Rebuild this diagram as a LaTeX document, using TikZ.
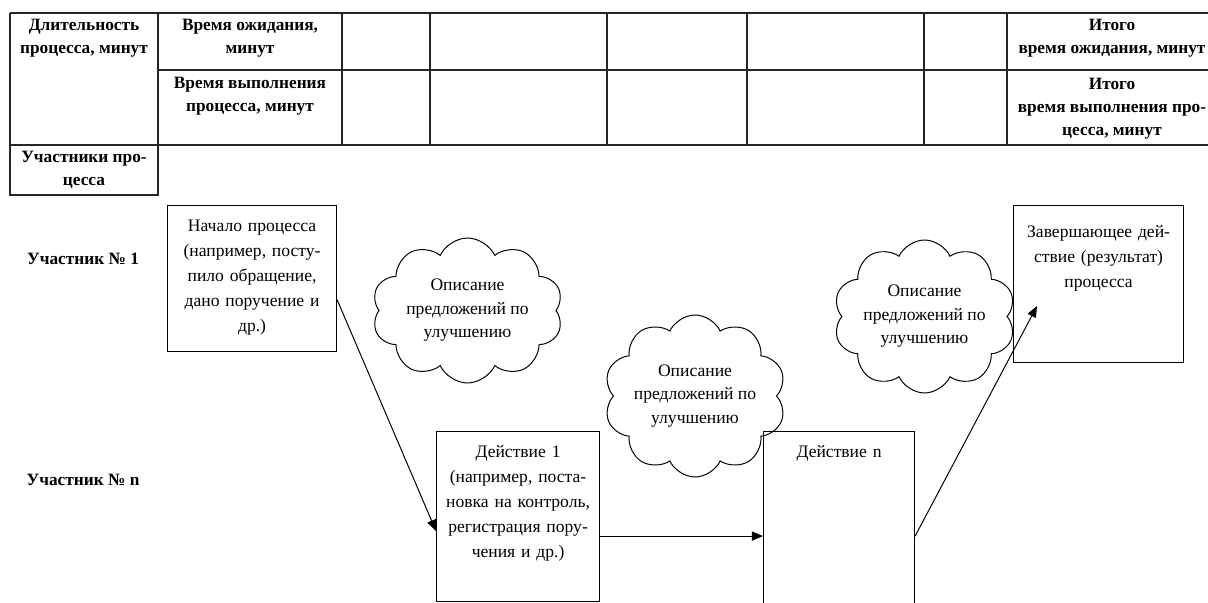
\documentclass[tikz,border=0pt]{standalone}
\usepackage{fontspec}
\setmainfont{Liberation Serif}
\usetikzlibrary{shapes.symbols, arrows.meta, positioning}

\begin{document}
\begin{tikzpicture}[x=0.25mm, y=-0.25mm,
  headtext/.style={font=\bfseries\fontsize{12.3}{16.4}\selectfont, align=center, inner sep=0pt},
  boxnode/.style={draw, line width=0.8pt, anchor=north west, inner sep=0pt},
  boxtext/.style={font=\fontsize{12.5}{17.8}\selectfont, align=center, inner sep=0pt},
  cloudnode/.style={cloud, draw, line width=0.7pt, cloud puffs=10, cloud puff arc=130, cloud ignores aspect, font=\fontsize{12.5}{16.7}\selectfont, align=center, inner sep=0pt},
  flow/.style={line width=0.7pt, -{Triangle[length=2.8mm, width=2.3mm]}},
  gridline/.style={line width=0.9pt, color=black!85}]
\useasboundingbox (0, 0) rectangle (1208, 603);
\clip (0, 0) rectangle (1208, 603);
%table
\draw[gridline] (10, 13) -- (1215, 13);
\draw[gridline] (158, 70) -- (1215, 70);
\draw[gridline] (10, 145) -- (1215, 145);
\draw[gridline] (10, 13) -- (10, 195) -- (158, 195) -- (158, 13);
\foreach \x in {342, 430, 607, 747, 924, 1007}
  \draw[gridline] (\x, 13) -- (\x, 145);
\node[headtext] at (84, 38.5) (durhead) {Длительность\\процесса, минут};
\node[headtext] at (250, 38.5) (waithead) {Время ожидания,\\минут};
\node[headtext] at (250, 96.5) (runhead) {Время выполнения\\процесса, минут};
\node[headtext] at (1112, 38.5) (waittotal) {Итого\\время ожидания, минут};
\node[headtext] at (1112, 109) (runtotal) {Итого\\время выполнения про-\\цесса, минут};
\node[headtext] at (84, 170) (members) {Участники про-\\цесса};
\node[headtext] at (83, 259) (member1) {Участник № 1};
\node[headtext] at (83, 480) (membern) {Участник № n};
%process
\node[boxnode, minimum width=42.25mm, minimum height=36.5mm] at (167, 205) (start) {};
\node[boxtext, text width=40mm, below=3.75mm of start.north] (starttext) {Начало процесса\\(например, посту-\\пило обращение,\\дано поручение и\\др.)};
\node[boxnode, minimum width=40.75mm, minimum height=42.5mm] at (436, 431) (act1) {};
\node[boxtext, text width=39mm, below=3.5mm of act1.north] (act1text) {Действие 1\\(например, поста-\\новка на контроль,\\регистрация пору-\\чения и др.)};
\node[boxnode, minimum width=37.75mm, minimum height=52.25mm] at (763, 431) (actn) {};
\node[boxtext, text width=36mm, below=3.5mm of actn.north] (actntext) {Действие n};
\node[boxnode, minimum width=42.5mm, minimum height=39.25mm] at (1013, 205) (finish) {};
\node[boxtext, text width=41mm, below=5mm of finish.north] (finishtext) {Завершающее дей-\\ствие (результат)\\процесса};
\node[cloudnode, minimum width=47.75mm, minimum height=36.25mm] at (467.5, 310.5) (idea1) {Описание\\предложений по\\улучшению};
\node[cloudnode, minimum width=45mm, minimum height=40.5mm] at (695, 396) (idea2) {Описание\\предложений по\\улучшению};
\node[cloudnode, minimum width=43.75mm, minimum height=38.25mm] at (924.5, 316.5) (idea3) {Описание\\предложений по\\улучшению};
\coordinate (finarrow) at (1037, 306);
\draw[flow] (start.-14) -- (act1.190);
\draw[flow] (act1.east |- actn.west) -- (actn.west);
\draw[flow] (actn.east) -- (finarrow);
\end{tikzpicture}
\end{document}
